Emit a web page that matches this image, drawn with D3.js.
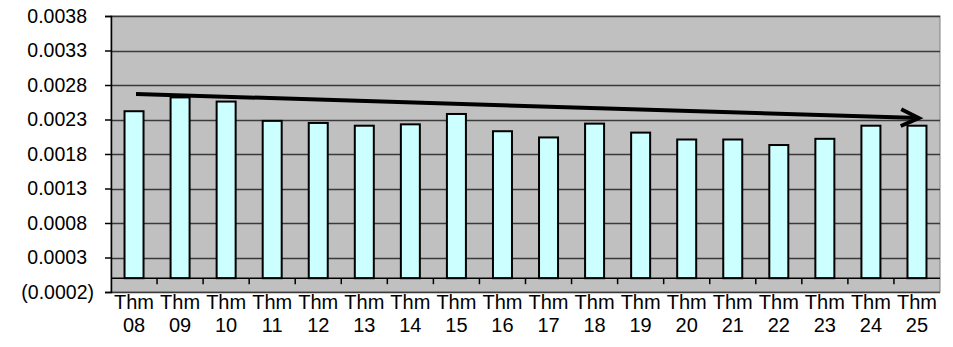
<!DOCTYPE html>
<html>
<head>
<meta charset="utf-8">
<script src="https://cdn.jsdelivr.net/npm/d3@7"></script>
<style>
body { margin: 0; background: #fff; }
text { font-family: "Liberation Sans", Arial, sans-serif; }
</style>
</head>
<body>
<script>
var w = 953;
var h = 347;
var months = ["08", "09", "10", "11", "12", "13", "14", "15", "16",
    "17", "18", "19", "20", "21", "22", "23", "24", "25"];
var values = [0.00242, 0.00262, 0.00256, 0.00228, 0.00225, 0.00221, 0.00223, 0.00238, 0.00213,
    0.00204, 0.00224, 0.00211, 0.00201, 0.00201, 0.00193, 0.00202, 0.00221, 0.00221];
var yTicks = [-0.0002, 0.0003, 0.0008, 0.0013, 0.0018, 0.0023, 0.0028, 0.0033, 0.0038];
var trendStart = ["08", 0.00267];
var trendEnd = ["25", 0.00232];

var mLeft = 111, mRight = 940, mTop = 16, mBottom = 292;

var svg = d3.select("body")
            .append("svg")
            .attr("width", w)
            .attr("height", h);

var x = d3.scaleBand()
    .domain(months)
    .range([mLeft, mRight])
    .paddingInner(0)
    .paddingOuter(0);

var y = d3.scaleLinear()
    .domain([-0.0002, 0.0038])
    .range([mBottom, mTop]);

// plot background
svg.append("rect")
    .attr("x", mLeft)
    .attr("y", mTop)
    .attr("width", mRight - mLeft)
    .attr("height", mBottom - mTop)
    .attr("fill", "#c0c0c0")
    .attr("stroke", "#808080")
    .attr("stroke-width", 1);

// grid lines
svg.selectAll("line.grid")
    .data(yTicks)
    .enter()
    .append("line")
    .attr("class", "grid")
    .attr("x1", mLeft)
    .attr("x2", mRight)
    .attr("y1", function(d){ return Math.round(y(d)) + 0.5; })
    .attr("y2", function(d){ return Math.round(y(d)) + 0.5; })
    .attr("stroke", "#3a3a3a")
    .attr("stroke-width", 1.3);

// y axis
var yAxis = d3.axisLeft(y)
    .tickValues(yTicks)
    .tickSize(6)
    .tickPadding(18)
    .tickFormat(function(d){
        var s = d3.format(".4f")(Math.abs(d));
        return d < 0 ? "(" + s + ")" : s;
    });

var gy = svg.append("g")
    .attr("transform", "translate(" + mLeft + ",0)")
    .call(yAxis);
gy.select(".domain").attr("stroke", "#000").attr("stroke-width", 1.5);
gy.selectAll(".tick line").attr("stroke", "#000").attr("stroke-width", 1.5);
gy.selectAll(".tick text")
    .attr("font-size", "19.5px")
    .attr("fill", "#000")
    .attr("font-family", "Liberation Sans, Arial, sans-serif")
    .attr("dx", function(d){ return d < 0 ? 7 : 0; });

// bars
var barW = 19;
svg.selectAll("rect.bar")
    .data(values)
    .enter()
    .append("rect")
    .attr("class", "bar")
    .attr("x", function(d, i){ return x(months[i]) + x.bandwidth() / 2 - barW / 2; })
    .attr("y", function(d){ return y(d); })
    .attr("width", barW)
    .attr("height", function(d){ return y(0) - y(d); })
    .attr("fill", "#ccffff")
    .attr("stroke", "#000")
    .attr("stroke-width", 2);

// category axis at zero
svg.append("line")
    .attr("x1", mLeft)
    .attr("x2", mRight)
    .attr("y1", y(0))
    .attr("y2", y(0))
    .attr("stroke", "#000")
    .attr("stroke-width", 1.5);

svg.selectAll("line.xtick")
    .data(months.slice(1))
    .enter()
    .append("line")
    .attr("class", "xtick")
    .attr("x1", function(d){ return x(d); })
    .attr("x2", function(d){ return x(d); })
    .attr("y1", y(0))
    .attr("y2", y(0) + 6)
    .attr("stroke", "#000")
    .attr("stroke-width", 1.5);

// category labels
var labels = svg.selectAll("text.cat")
    .data(months)
    .enter()
    .append("text")
    .attr("class", "cat")
    .attr("x", function(d){ return x(d) + x.bandwidth() / 2; })
    .attr("y", 309)
    .attr("font-size", "20px")
    .attr("fill", "#000")
    .attr("text-anchor", "middle");
labels.append("tspan")
    .attr("x", function(d){ return x(d) + x.bandwidth() / 2; })
    .text("Thm");
labels.append("tspan")
    .attr("x", function(d){ return x(d) + x.bandwidth() / 2; })
    .attr("dy", 23)
    .text(function(d){ return d; });

// trend arrow
var defs = svg.append("defs");
defs.append("marker")
    .attr("id", "arrow")
    .attr("viewBox", "0 0 10 10")
    .attr("refX", 8.5)
    .attr("refY", 5)
    .attr("markerWidth", 6)
    .attr("markerHeight", 6)
    .attr("markerUnits", "strokeWidth")
    .attr("orient", "auto")
    .attr("overflow", "visible")
    .append("path")
    .attr("d", "M1,1.5 L8.5,5 L1,8.5")
    .attr("fill", "none")
    .attr("stroke", "#000")
    .attr("stroke-width", 1.6)
    .attr("stroke-linejoin", "miter");

svg.append("line")
    .attr("x1", x(trendStart[0]) + x.bandwidth() / 2 + 2)
    .attr("y1", y(trendStart[1]))
    .attr("x2", x(trendEnd[0]) + x.bandwidth() / 2 + 2)
    .attr("y2", y(trendEnd[1]))
    .attr("stroke", "#000")
    .attr("stroke-width", 4)
    .attr("marker-end", "url(#arrow)");
</script>
</body>
</html>
